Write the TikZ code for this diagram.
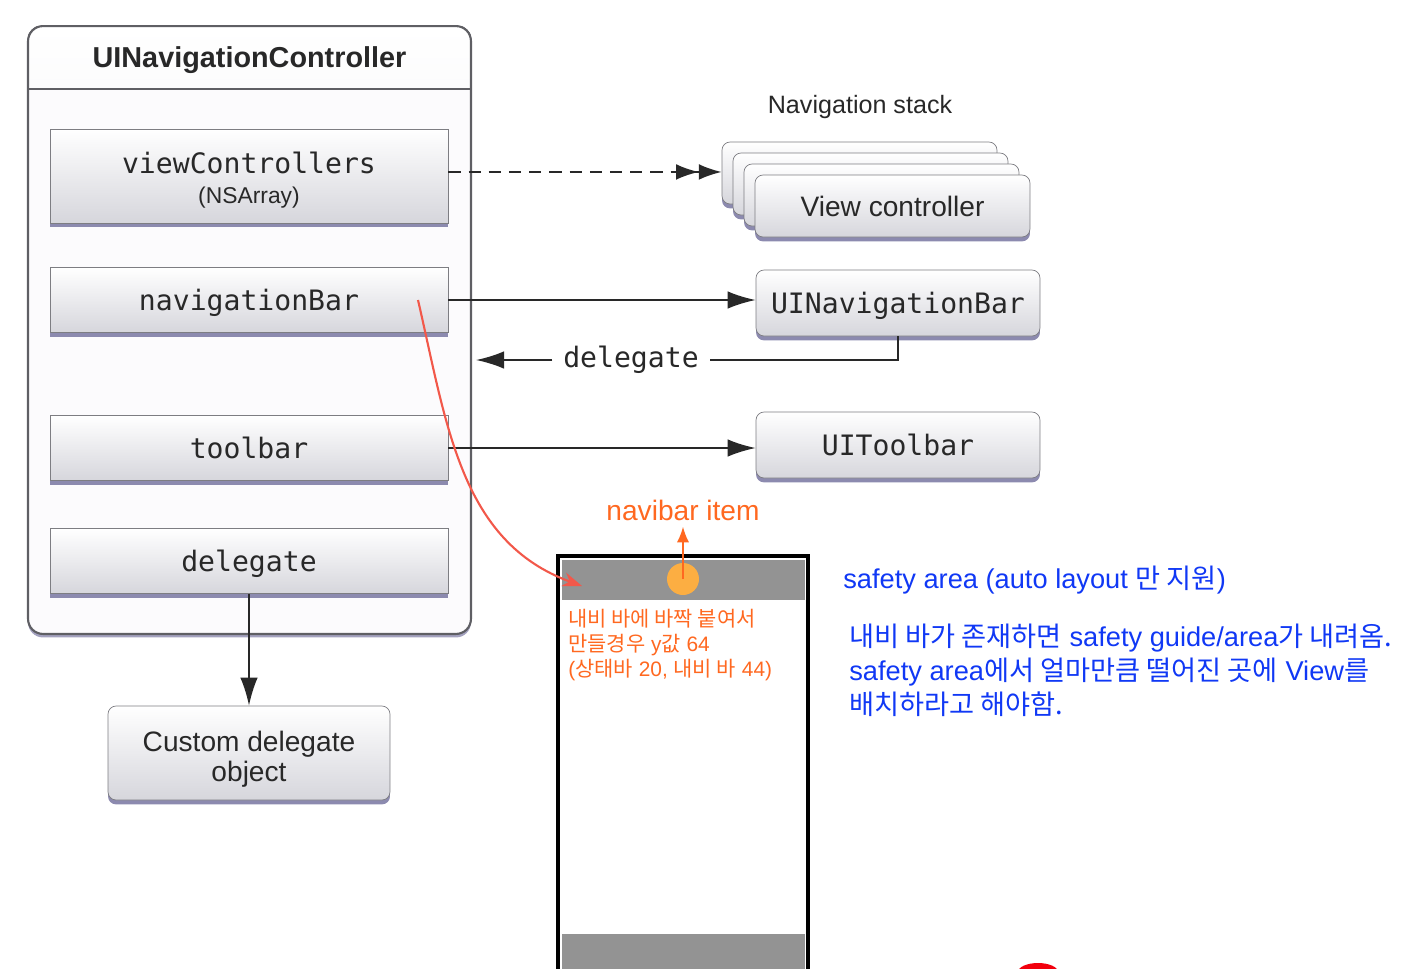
\documentclass[tikz,border=0pt]{standalone}
\usepackage{fontspec}
\setmainfont{Liberation Sans}
\setmonofont{DejaVu Sans Mono}
\newfontfamily\kr[Scale=1.0]{Noto Sans CJK KR}
\usetikzlibrary{positioning,
        shapes,
        shadows,
        arrows.meta,
        fit}
\definecolor{frame}{RGB}{95,95,100}
\definecolor{panel}{RGB}{252,251,253}
\definecolor{boxline}{RGB}{125,125,130}
\definecolor{boxbot}{RGB}{214,214,220}
\definecolor{shadowc}{RGB}{140,138,175}
\definecolor{ink}{RGB}{40,40,40}
\definecolor{navred}{RGB}{242,88,74}
\definecolor{navorange}{RGB}{255,104,32}
\definecolor{dotorange}{RGB}{252,174,66}
\definecolor{bargray}{RGB}{147,147,147}
\definecolor{noteblue}{RGB}{16,56,245}

\begin{document}
\begin{tikzpicture}[x=0.02cm, y=-0.02cm,
        container/.style={draw=frame, fill=panel, line width=1.2pt, rounded corners=0.3cm,
            outer sep=0pt, minimum width=8.86cm, minimum height=12.16cm,
            drop shadow={shadow xshift=0pt, shadow yshift=-2pt, fill=shadowc, opacity=0.8}},
        member/.style={draw=boxline, top color=white, bottom color=boxbot, text=ink,
            minimum width=7.96cm, minimum height=1.3cm, inner sep=0pt,
            font=\ttfamily\fontsize{16}{18}\selectfont,
            drop shadow={shadow xshift=0pt, shadow yshift=-2.5pt, fill=shadowc, opacity=1}},
        onerow/.style={member, text depth=0pt},
        obj/.style={onerow, rounded corners=0.16cm, minimum width=5.68cm, minimum height=1.32cm},
        vcbox/.style={obj, minimum width=5.5cm, minimum height=1.24cm,
            font=\fontsize{16}{18}\selectfont},
        conn/.style={line width=1.1pt, draw=ink},
        tip/.style={-{Latex[length=16pt,width=10pt]}}]
    \useasboundingbox (0,0) rectangle (1414,968);

    % navigation controller
    \node [container] (nc) at (249.5,330) {};
    \begin{scope}
        \clip (nc.north west) rectangle (nc.east |- 0,89);
        \shadedraw [top color=white, bottom color=boxbot!70, draw=frame, line width=1.2pt,
            rounded corners=0.3cm] (nc.north west) rectangle (nc.south east);
    \end{scope}
    \draw [frame, line width=1.2pt] (nc.west |- 0,89) -- (nc.east |- 0,89);
    \node [font=\bfseries\fontsize{16.4}{18}\selectfont, text=ink] (title) at (249.5,60) {UINavigationController};

    \node [member, minimum height=1.88cm, align=center] (vcs) at (249,176)
        {\rule{0pt}{17pt}viewControllers\\[-1pt]{\rmfamily\fontsize{13}{15}\selectfont (NSArray)}};
    \node [onerow] (navbar) at (249,300) {navigationBar};
    \node [onerow] (toolbar) at (249,448) {toolbar};
    \node [onerow] (dlg) at (249,561) {delegate};

    \node [member, rounded corners=0.16cm, minimum width=5.64cm, minimum height=1.88cm, align=center,
        font=\fontsize{16}{18}\selectfont] (custom) at (249,753) {\rule{0pt}{19pt}Custom delegate\\[-1pt]object};

    % navigation stack
    \node [font=\fontsize{14.3}{16}\selectfont, text=ink] (stacklabel) at (860,107) {Navigation stack};
    \node [vcbox] (s1) at (859.5,173) {};
    \node [vcbox] (s2) at (870.5,184) {};
    \node [vcbox] (s3) at (881.5,195) {};
    \node [vcbox] (s4) at (892.5,206) {View controller};

    \node [obj] (uinavbar) at (898,303) {UINavigationBar};
    \node [obj] (uitoolbar) at (898,445) {UIToolbar};
    \node [font=\ttfamily\fontsize{16}{18}\selectfont, text=ink, inner xsep=6pt] (dglabel) at (631,360) {delegate};

    \draw [conn, dash pattern=on 7pt off 4.5pt,
        -{Latex[length=13pt,width=9pt] Latex[length=13pt,width=9pt]}]
        ([yshift=2.3pt]vcs.east) -- ([yshift=2.3pt]vcs.east -| s1.west);
    \draw [conn, tip] (navbar.east) -- (navbar.east -| uinavbar.west);
    \draw [conn] (uinavbar.south) |- (dglabel.east);
    \draw [conn, tip, shorten >=0.1cm] (dglabel.west) -- (nc.east |- dglabel.west);
    \draw [conn, tip] (toolbar.east -| nc.east) -- (toolbar.east -| uitoolbar.west);
    \draw [conn] (toolbar.east) -- (toolbar.east -| nc.east);
    \draw [conn, tip] (dlg.south) -- (custom.north);

    % phone screen
    \fill [bargray] (562,560) rectangle (805,600);
    \fill [bargray] (562,934) rectangle (805,975);
    \draw [black, line width=1.8pt] (558,975) |- (808,556) -- (808,975);
    \node [circle, fill=dotorange, minimum size=0.64cm, inner sep=0pt] (dot) at (683,579) {};
    \node [text=navorange, font=\fontsize{16}{18}\selectfont] (navi) at (683,510) {navibar item};
    \draw [navorange, line width=1.2pt, -{Latex[length=9pt,width=7pt]}] (dot.center) -- (navi.south);

    \node [anchor=north west, align=left, text=navorange, inner sep=0pt,
        font=\fontsize{11.9}{14.2}\selectfont] (y64) at (568,609)
        {{\kr 내비 바에 바짝 붙여서}\\{\kr 만들경우} y{\kr 값} 64\\({\kr 상태바} 20, {\kr 내비 바} 44)};

    \coordinate (redstart) at (418,300);
    \coordinate (redend) at (582,586);
    \draw [navred, line width=1.2pt, -{Stealth[length=11pt,width=8pt]}] (redstart) to[out=-77,in=160] (redend);

    % notes
    \node [anchor=west, text=noteblue, inner sep=0pt, font=\fontsize{15.5}{19}\selectfont] (safety) at (843,580)
        {safety area (auto layout {\kr 만 지원})};
    \node [anchor=north west, align=left, text=noteblue, inner sep=0pt,
        font=\fontsize{15.5}{19.3}\selectfont] (note) at (849,624)
        {{\kr 내비 바가 존재하면} safety guide/area{\kr 가 내려옴.}\\
         safety area{\kr 에서 얼마만큼 떨어진 곳에} View{\kr 를}\\
         {\kr 배치하라고 해야함.}};

    \fill [red!80!purple] (1018,972) arc (180:0:0.4cm and 0.18cm) -- cycle;
\end{tikzpicture}
\end{document}
